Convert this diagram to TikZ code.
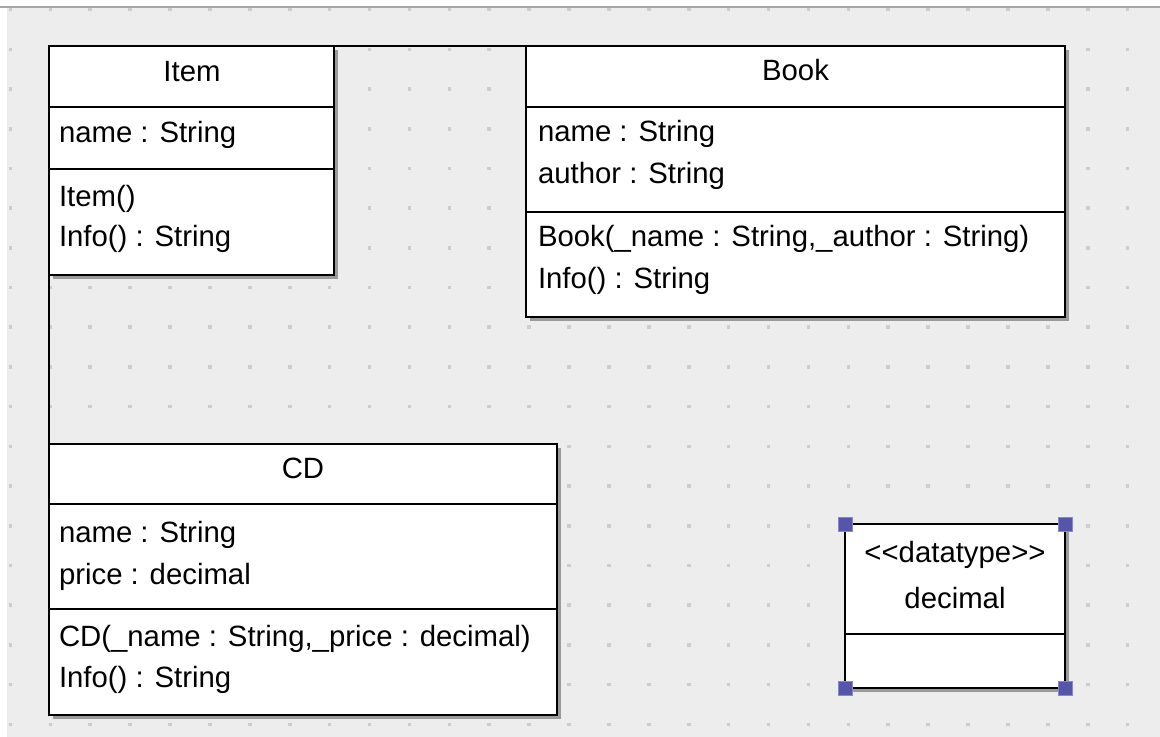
\documentclass[tikz,border=0pt]{standalone}
\usepackage{fontspec}
\setmainfont{Liberation Sans}
\usetikzlibrary{fit,shadows}
\definecolor{canvas}{HTML}{EDEDED}
\definecolor{griddot}{HTML}{CDCDCD}
\definecolor{handle}{RGB}{85,85,170}
\definecolor{topline}{HTML}{A8A8A8}
\tikzset{
  classbox/.style={draw=black, line width=2.2pt, fill=white, inner sep=0pt, outer sep=0pt,
    drop shadow={shadow xshift=2.8pt, shadow yshift=-2.8pt, opacity=0.35, fill=black}},
  divthin/.style={draw=black, line width=1.1pt},
  divthick/.style={draw=black, line width=1.7pt},
  link/.style={draw=black, line width=1.7pt},
  txt/.style={inner sep=0pt, outer sep=0pt, font=\fontsize{22pt}{26pt}\selectfont, text=black},
  lbl/.style={txt, anchor=base west},
  ttl/.style={txt, anchor=base},
  grab/.style={draw=handle!70, line width=0.4pt, fill=handle, minimum size=10.5pt, inner sep=0pt, outer sep=0pt},
}
\begin{document}
\begin{tikzpicture}[x=0.75pt, y=-0.75pt]
\useasboundingbox (0,0) rectangle (1160,737);
% background
\fill[white] (0,0) rectangle (1160,737);
\fill[canvas] (7,7) rectangle (1160,737);
\draw[topline, line width=1pt] (0,7) -- (1160,7);
% dot grid
\foreach \i in {0,...,28} {
  \foreach \j in {0,...,18} {
    \fill[griddot] ({10.4+39.9*\i-1.8},{9.7+39.7*\j-1.8}) rectangle ++(3.6,3.6);
  }
}
% Item
\node[classbox, fit={(49,46)(334,275)}] (item) {};
\draw[divthin] (49,107) -- (334,107);
\draw[divthick] (49,169) -- (334,169);
\node[ttl] (itemT) at (192,82) {Item};
\node[lbl] (itemA1) at (59,143) {name : String};
\node[lbl] (itemO1) at (59,207) {Item()};
\node[lbl] (itemO2) at (59,247) {Info() : String};
% Book
\node[classbox, fit={(526,46)(1065,317)}] (book) {};
\draw[divthin] (526,107) -- (1065,107);
\draw[divthin] (526,212) -- (1065,212);
\node[ttl] (bookT) at (795.5,81) {Book};
\node[lbl] (bookA1) at (538,142) {name : String};
\node[lbl] (bookA2) at (538,184) {author : String};
\node[lbl] (bookO1) at (538,247) {Book(\_name : String,\_author : String)};
\node[lbl] (bookO2) at (538,289) {Info() : String};
% CD
\node[classbox, fit={(49,444)(557,715)}] (cd) {};
\draw[divthick] (49,504) -- (557,504);
\draw[divthin] (49,609) -- (557,609);
\node[ttl] (cdT) at (303,479) {CD};
\node[lbl] (cdA1) at (59,542) {name : String};
\node[lbl] (cdA2) at (59,584) {price : decimal};
\node[lbl] (cdO1) at (59,646) {CD(\_name : String,\_price : decimal)};
\node[lbl] (cdO2) at (59,687) {Info() : String};
% datatype
\node[classbox, fit={(845,524)(1065,688)}] (dec) {};
\draw[divthick] (845,634) -- (1065,634);
\node[ttl] (decS) at (955,562) {<{}<datatype>{}>};
\node[ttl] (decN) at (955,608) {decimal};
\node[grab] (h1) at (dec.north west) {};
\node[grab] (h2) at (dec.north east) {};
\node[grab] (h3) at (dec.south west) {};
\node[grab] (h4) at (dec.south east) {};
% connectors
\draw[link] (item.north east) -- (book.north west);
\draw[link] (item.south west) -- (cd.north west);
\end{tikzpicture}
\end{document}
